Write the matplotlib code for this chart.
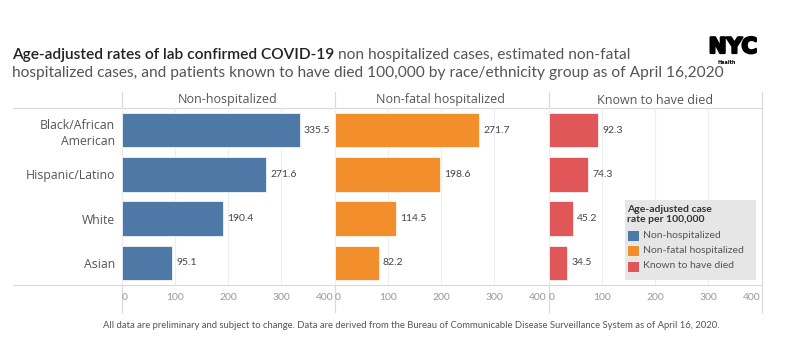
import matplotlib
matplotlib.use('Agg')
import matplotlib.pyplot as plt
import matplotlib.patheffects as pe
from matplotlib import font_manager
from matplotlib.patches import Rectangle

# 数据
groups = ['Black/African\nAmerican', 'Hispanic/Latino', 'White', 'Asian']
series = ['Non-hospitalized', 'Non-fatal hospitalized', 'Known to have died']
non_hosp = [335.5, 271.6, 190.4, 95.1]
nonfatal_hosp = [271.7, 198.6, 114.5, 82.2]
died = [92.3, 74.3, 45.2, 34.5]
colors = ['#4e79a7', '#f28e2b', '#e15759']
xticks = [0, 100, 200, 300, 400]

title_bold = 'Age-adjusted rates of lab confirmed COVID-19'
title_rest1 = ' non hospitalized cases, estimated non-fatal'
title_line2 = ('hospitalized cases, and patients known to have died 100,000 '
               'by race/ethnicity group as of April 16,2020')
footer = ('All data are preliminary and subject to change. Data are derived from the '
          'Bureau of Communicable Disease Surveillance System as of April 16, 2020.')
legend_title = 'Age-adjusted case\nrate per 100,000'


def has_font(name):
    try:
        font_manager.findfont(name, fallback_to_default=False)
        return True
    except Exception:
        return False


narrow = 'Liberation Sans Narrow' if has_font('Liberation Sans Narrow') else 'Lato'
plt.rcParams['font.family'] = ['Lato', 'DejaVu Sans']

W, H = 812, 351
fig = plt.figure(figsize=(W / 100, H / 100), dpi=100)
renderer = fig.canvas.get_renderer()

# 覆盖层（像素坐标）
bg = fig.add_axes([0, 0, 1, 1])
bg.set_xlim(0, W)
bg.set_ylim(H, 0)
bg.axis('off')


def fit_text(x, y, s, target_w, size, **kw):
    t = bg.text(x, y, s, fontsize=size, va='center', ha='left', **kw)
    w = t.get_window_extent(renderer).width
    t.set_fontsize(size * target_w / w)
    return t


# 标题
t2 = fit_text(12, 73, title_line2, 715, 10.5, color='#555555')
fs = t2.get_fontsize()
t1 = bg.text(12, 55, title_bold, fontsize=fs, va='center', ha='left',
             color='#222222', fontweight='semibold')
w1 = t1.get_window_extent(renderer).width
bg.text(12 + w1, 55, title_rest1, fontsize=fs, va='center', ha='left', color='#555555')

# NYC logo
bg.text(733, 47, 'NYC', fontsize=15.5, fontweight='black', color='black',
        ha='center', va='center', family='DejaVu Sans',
        path_effects=[pe.withStroke(linewidth=1.6, foreground='black')])
bg.text(718, 62, 'Health', fontsize=3.5, fontweight='bold', color='black',
        ha='left', va='center', family='DejaVu Sans')

# 分隔线
line_c = '#d9d9d9'
for x in [122, 335, 549, 762]:
    bg.plot([x, x], [92, 312], color=line_c, lw=0.8)
for y in [108, 285]:
    bg.plot([13, 762], [y, y], color=line_c, lw=0.8)

# 页脚
fit_text(103, 326, footer, 613, 6.5, color='#555555', family=narrow)

# 三个面板
values = [non_hosp, nonfatal_hosp, died]
lefts = [122, 335, 549]
top, bottom = 108, 285
ypos = list(range(len(groups)))
for i, (vals, left) in enumerate(zip(values, lefts)):
    ax = fig.add_axes([left / W, 1 - bottom / H, 212 / W, (bottom - top) / H])
    ax.patch.set_alpha(0)
    bars = ax.barh(ypos, vals, height=0.78, color=colors[i], edgecolor='white', lw=0.5)
    ax.bar_label(bars, fmt='%.1f', padding=3, fontsize=7.5, color='#444444')
    ax.set_xlim(0, 400)
    ax.set_ylim(len(groups) - 0.5, -0.5)
    ax.set_xticks(xticks)
    ax.set_xticklabels([str(v) for v in xticks], fontsize=7.5, color='#999999')
    labs = ax.get_xticklabels()
    labs[0].set_ha('left')
    labs[-1].set_ha('right')
    ax.tick_params(axis='x', length=0, pad=6)
    ax.grid(axis='x', color='#eeeeee', lw=0.8)
    ax.set_axisbelow(True)
    for sp in ax.spines.values():
        sp.set_visible(False)
    if i == 0:
        ax.set_yticks(ypos)
        ax.set_yticklabels(groups, fontsize=8.8, color='#555555', family='Open Sans',
                           ha='right', multialignment='right', linespacing=1.35)
        ax.tick_params(axis='y', length=0, pad=5)
    else:
        ax.set_yticks([])
    bg.text(left + 106, 100, series[i], fontsize=9, color='#555555', ha='center',
            va='center', family='Open Sans')

# 图例
lg = fig.add_axes([625 / W, 1 - 280 / H, 131 / W, 80 / H])
lg.set_xlim(0, 131)
lg.set_ylim(80, 0)
lg.set_facecolor('#e6e6e6')
lg.set_xticks([])
lg.set_yticks([])
for sp in lg.spines.values():
    sp.set_visible(False)
lg.text(2, 14.5, legend_title, fontsize=7.5, fontweight='bold', color='#333333',
        va='center', ha='left', linespacing=1.15)
for k, (name, c) in enumerate(zip(series, colors)):
    yc = 35 + k * 15.5
    lg.add_patch(Rectangle((2, yc - 5.5), 12, 11, facecolor=c, edgecolor='white', lw=0.5))
    lg.text(18, yc, name, fontsize=7.5, color='#555555', va='center', ha='left')

fig.savefig('out.png', dpi=100)
